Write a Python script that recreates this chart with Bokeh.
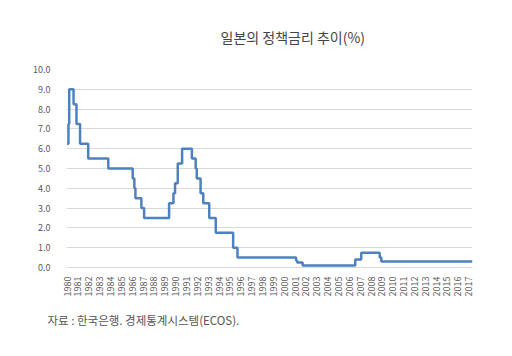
import math
from bokeh.plotting import figure
from bokeh.models import FixedTicker, NumeralTickFormatter, Range1d, Title
from bokeh.embed import file_html
from bokeh.resources import INLINE

# Change dates (decimal years) and policy rate (%) after each change
dates = [1980.0, 1980.13, 1980.2, 1980.6, 1980.87, 1981.2, 1981.95, 1983.8,
         1986.05, 1986.2, 1986.3, 1986.85, 1987.1, 1989.4, 1989.8, 1989.95,
         1990.2, 1990.6, 1991.5, 1991.85, 1991.95, 1992.3, 1992.55, 1993.1,
         1993.7, 1995.3, 1995.7, 2001.1, 2001.2, 2001.7, 2006.55, 2007.1,
         2008.8, 2008.95, 2017.35]
rates = [6.25, 7.25, 9.0, 8.25, 7.25, 6.25, 5.5, 5.0,
         4.5, 4.0, 3.5, 3.0, 2.5, 3.25, 3.75, 4.25,
         5.25, 6.0, 5.5, 5.0, 4.5, 3.75, 3.25, 2.5,
         1.75, 1.0, 0.5, 0.35, 0.25, 0.1, 0.4, 0.75,
         0.5, 0.3, 0.3]
years = list(range(1980, 2018))
y_ticks = [0, 1, 2, 3, 4, 5, 6, 7, 8, 9, 10]
title_text = "일본의 정책금리 추이(%)"
source_text = "자료 : 한국은행. 경제통계시스템(ECOS)."

FONT = "Noto Sans CJK KR"

p = figure(width=512, height=356, output_backend="svg", toolbar_location=None,
           x_range=Range1d(1979.95, 2017.35), y_range=Range1d(0, 10),
           min_border_left=66, min_border_right=40, min_border_top=69,
           min_border_bottom=89)
p.outline_line_color = None
p.background_fill_color = "white"
p.border_fill_color = "white"

p.title = Title(text=title_text, align="left", offset=154, standoff=46,
                text_font=FONT, text_font_size="14px", text_font_style="normal",
                text_color="#444444")

p.add_layout(Title(text=source_text, align="left", offset=-19, standoff=20,
                   text_font=FONT, text_font_size="11.5px",
                   text_font_style="normal", text_color="#555555"), "below")

p.step(dates, rates, mode="after", line_color="#4f82bd", line_width=2.5)

p.xaxis.ticker = FixedTicker(ticks=years)
p.xaxis.major_label_orientation = math.pi / 2
p.xaxis.major_label_text_font = FONT
p.xaxis.major_label_text_font_size = "9px"
p.xaxis.major_label_text_color = "#595959"
p.xaxis.axis_line_color = "#d9d9d9"
p.xaxis.major_tick_line_color = None
p.xaxis.minor_tick_line_color = None
p.xaxis.major_label_standoff = 3

p.yaxis.ticker = FixedTicker(ticks=y_ticks)
p.yaxis.formatter = NumeralTickFormatter(format="0.0")
p.yaxis.major_label_text_font = FONT
p.yaxis.major_label_text_font_size = "9px"
p.yaxis.major_label_text_color = "#595959"
p.yaxis.axis_line_color = None
p.yaxis.major_tick_line_color = None
p.yaxis.minor_tick_line_color = None
p.yaxis.major_label_standoff = 10

p.xgrid.grid_line_color = None
p.ygrid.grid_line_color = "#d9d9d9"
p.ygrid.grid_line_width = 1

open("out.html", "w").write(file_html(p, INLINE))
